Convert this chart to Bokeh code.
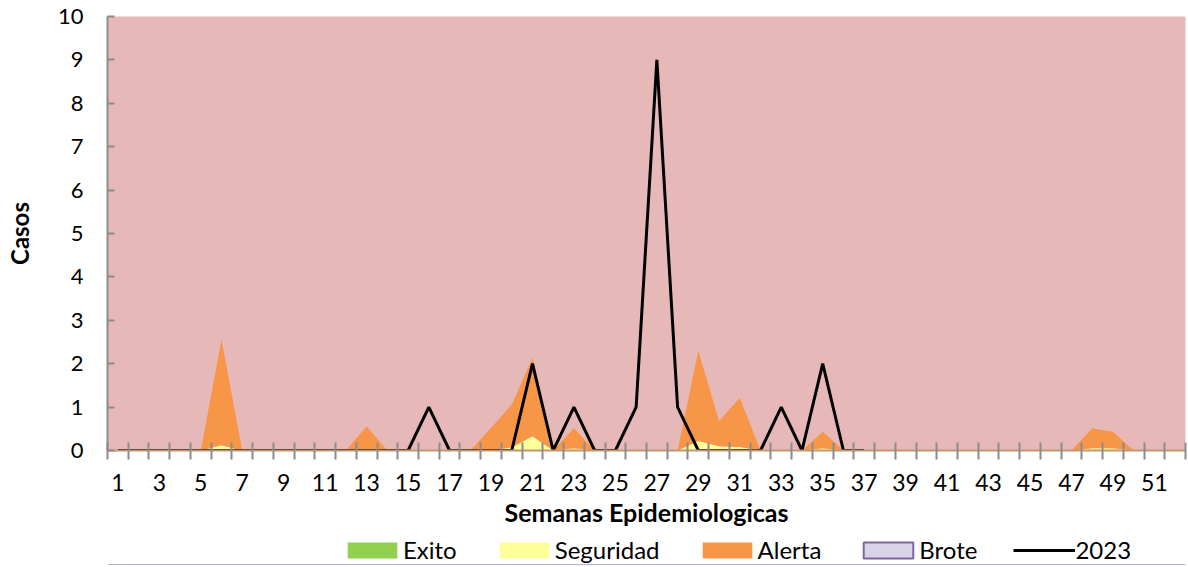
from bokeh.plotting import figure
from bokeh.layouts import column
from bokeh.models import (Range1d, FixedTicker, Legend, LegendItem, ColumnDataSource)
from bokeh.embed import file_html
from bokeh.resources import INLINE

weeks = list(range(1, 53))
# stacked layer increments (Excel stacked-area style)
exito = [0.0] * 52
seguridad = [0, 0, 0, 0, 0, 0.12, 0, 0, 0, 0, 0, 0, 0.03, 0, 0, 0, 0, 0, 0.02, 0.07,
             0.33, 0, 0.05, 0, 0, 0, 0, 0, 0.22, 0.1, 0.08, 0, 0, 0, 0.05, 0, 0, 0, 0, 0,
             0, 0, 0, 0, 0, 0, 0, 0.05, 0.05, 0, 0, 0]
alerta = [0, 0, 0, 0, 0, 2.44, 0, 0, 0, 0, 0, 0, 0.53, 0, 0, 0, 0, 0, 0.5, 0.99,
          1.8, 0, 0.46, 0, 0, 0, 0, 0, 2.08, 0.58, 1.13, 0, 0, 0, 0.38, 0, 0, 0, 0, 0,
          0, 0, 0, 0, 0, 0, 0, 0.46, 0.38, 0, 0, 0]
brote = [0.0] * 52
casos_2023 = [0, 0, 0, 0, 0, 0, 0, 0, 0, 0, 0, 0, 0, 0, 0, 1, 0, 0, 0, 0,
              2, 0, 1, 0, 0, 1, 9, 1, 0, 0, 0, 0, 1, 0, 2, 0, 0]
y_ticks = list(range(0, 11))
x_label_ticks = list(range(1, 53, 2))

FONT = "Lato"
COLORS = ["#92D050", "#FFFF99", "#F79646"]

src = ColumnDataSource(dict(week=weeks, exito=exito, seguridad=seguridad,
                            alerta=alerta, brote=brote))

# ---------------- main chart ----------------
p = figure(width=1187, height=529, output_backend="svg", toolbar_location=None,
           x_range=Range1d(0.5, 52.5), y_range=Range1d(0, 10),
           min_border_left=107, min_border_top=16, min_border_right=2, min_border_bottom=0)
p.background_fill_color = "#E6B8B7"
p.border_fill_color = "white"
p.outline_line_color = None
p.xgrid.visible = False
p.ygrid.visible = False

p.varea_stack(["exito", "seguridad", "alerta"], x="week", source=src, color=COLORS)
p.line(weeks[:len(casos_2023)], casos_2023, line_color="black", line_width=3)

xa = p.xaxis[0]
xa.ticker = FixedTicker(ticks=x_label_ticks, minor_ticks=[w - 0.5 for w in weeks] + [52.5])
xa.major_tick_in = 0
xa.major_tick_out = 0
xa.minor_tick_in = 8
xa.minor_tick_out = 9
xa.minor_tick_line_color = "#8C8C8C"
xa.minor_tick_line_width = 2
xa.axis_line_color = "#C8966E"
xa.axis_line_width = 2
xa.major_label_text_font = FONT
xa.major_label_text_font_size = "23px"
xa.major_label_text_color = "black"
xa.major_label_standoff = 14
xa.axis_label = "Semanas Epidemiologicas"
xa.axis_label_text_font = FONT
xa.axis_label_text_font_style = "bold"
xa.axis_label_text_font_size = "25px"
xa.axis_label_text_color = "black"
xa.axis_label_standoff = 3

ya = p.yaxis[0]
ya.ticker = FixedTicker(ticks=y_ticks)
ya.minor_tick_line_color = None
ya.major_tick_in = 7
ya.major_tick_out = 0
ya.major_tick_line_color = "#8C8C8C"
ya.major_tick_line_width = 2
ya.axis_line_color = "#8C8C8C"
ya.axis_line_width = 2
ya.major_label_text_font = FONT
ya.major_label_text_font_size = "22px"
ya.major_label_text_color = "black"
ya.major_label_standoff = 24
ya.axis_label = "Casos"
ya.axis_label_text_font = FONT
ya.axis_label_text_font_style = "bold"
ya.axis_label_text_font_size = "24px"
ya.axis_label_text_color = "black"
ya.axis_label_standoff = 21

# ---------------- legend strip ----------------
leg = figure(width=1187, height=36, output_backend="svg", toolbar_location=None,
             x_axis_type=None, y_axis_type=None,
             x_range=Range1d(0.5, 52.5), y_range=Range1d(100, 101),
             min_border_left=0, min_border_right=0, min_border_top=0, min_border_bottom=0)
leg.outline_line_color = None
leg.background_fill_color = "white"
leg.border_fill_color = "white"

lrs = leg.varea_stack(["exito", "seguridad", "alerta"], x="week", source=src, color=COLORS)
lb = leg.vbar(x="week", top="brote", width=1, source=src, fill_color="#D9D2E9",
              line_color="#8064A2", line_width=2)
ll = leg.line(weeks[:len(casos_2023)], casos_2023, line_color="black", line_width=3)

legend = Legend(items=[
    LegendItem(label="Exito", renderers=[lrs[0]]),
    LegendItem(label="Seguridad", renderers=[lrs[1]]),
    LegendItem(label="Alerta", renderers=[lrs[2]]),
    LegendItem(label="Brote", renderers=[lb]),
    LegendItem(label="2023", renderers=[ll]),
], orientation="horizontal", location=(234, 1))
legend.label_text_font = FONT
legend.label_text_font_size = "24px"
legend.label_text_color = "black"
legend.glyph_width = 62
legend.glyph_height = 20
legend.label_standoff = 0
legend.spacing = 36
legend.padding = 0
legend.margin = 0
legend.border_line_color = None
legend.background_fill_alpha = 0
leg.add_layout(legend)

layout = column(p, leg, spacing=0)
open("out.html", "w").write(file_html(layout, INLINE))
